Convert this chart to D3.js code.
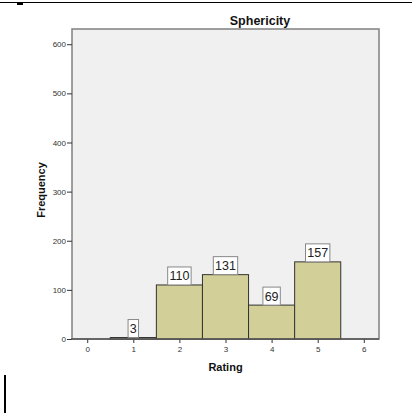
<!DOCTYPE html>
<html><head><meta charset="utf-8">
<script src="https://cdn.jsdelivr.net/npm/d3@7"></script>
<style>body{margin:0;background:#fff;}svg{display:block;}</style>
</head><body>
<script>
const ratings = [1, 2, 3, 4, 5];
const frequencies = [3, 110, 131, 69, 157];
const xTicks = [0, 1, 2, 3, 4, 5, 6];
const yTicks = [0, 100, 200, 300, 400, 500, 600];
const title = "Sphericity";
const xLabel = "Rating";
const yLabel = "Frequency";

const W = 412, H = 413;
const svg = d3.select("body").append("svg").attr("width", W).attr("height", H);

// decorative lines from the screenshot
svg.append("line").attr("x1", 0).attr("x2", W).attr("y1", 2.5).attr("y2", 2.5).attr("stroke", "#000").attr("stroke-width", 1);
svg.append("rect").attr("x", 17).attr("y", 2).attr("width", 6).attr("height", 3).attr("fill", "#000");
svg.append("rect").attr("x", 4).attr("y", 375).attr("width", 2).attr("height", 38).attr("fill", "#000");

const L = 72, R = 379, T = 29, B = 339;
const x = d3.scaleLinear().domain([-0.33, 6.33]).range([L, R]);
const y = d3.scaleLinear().domain([0, 631]).range([B, T]);

svg.append("rect").attr("x", L).attr("y", T).attr("width", R - L).attr("height", B - T)
  .attr("fill", "#f0f0f0").attr("stroke", "#808080").attr("stroke-width", 1.5);

// bars
svg.selectAll("rect.bar").data(ratings).join("rect").attr("class", "bar")
  .attr("x", d => x(d - 0.5)).attr("width", d => x(d + 0.5) - x(d - 0.5))
  .attr("y", (d, i) => y(frequencies[i])).attr("height", (d, i) => y(0) - y(frequencies[i]))
  .attr("fill", "#d3cf98").attr("stroke", "#333").attr("stroke-width", 1);

// value labels
const lab = svg.selectAll("g.lab").data(ratings).join("g").attr("class", "lab");
lab.each(function(d, i) {
  const g = d3.select(this);
  const t = g.append("text").text(frequencies[i])
    .attr("x", x(d)).attr("y", y(frequencies[i]) - 4.5)
    .attr("text-anchor", "middle").attr("font-family", "Liberation Sans, Arial, sans-serif")
    .attr("font-size", 12.5).attr("fill", "#222");
  const bw = t.node().getComputedTextLength() + 3.5;
  g.insert("rect", "text").attr("x", x(d) - bw / 2).attr("y", y(frequencies[i]) - 18)
    .attr("width", bw).attr("height", 18).attr("fill", "#fff").attr("stroke", "#888").attr("stroke-width", 1);
});

// axes
const xAxis = svg.append("g").attr("transform", `translate(0,${B})`)
  .call(d3.axisBottom(x).tickValues(xTicks).tickSize(4).tickPadding(3).tickFormat(d3.format("d")));
const yAxis = svg.append("g").attr("transform", `translate(${L},0)`)
  .call(d3.axisLeft(y).tickValues(yTicks).tickSize(5).tickPadding(1).tickFormat(d3.format("d")));
[xAxis, yAxis].forEach(a => {
  a.select(".domain").remove();
  a.selectAll("line").attr("stroke", "#333");
  a.selectAll("text").attr("font-family", "Liberation Sans, Arial, sans-serif").attr("font-size", 8).attr("fill", "#333");
});
svg.append("line").attr("x1", L - 1).attr("x2", R).attr("y1", B).attr("y2", B).attr("stroke", "#555").attr("stroke-width", 1.5);

svg.append("text").text(title).attr("x", 260).attr("y", 24.5).attr("text-anchor", "middle")
  .attr("font-family", "Liberation Sans, Arial, sans-serif").attr("font-weight", "bold").attr("font-size", 12.5).attr("fill", "#111");
svg.append("text").text(xLabel).attr("x", x(3)).attr("y", 371).attr("text-anchor", "middle")
  .attr("font-family", "Liberation Sans, Arial, sans-serif").attr("font-weight", "bold").attr("font-size", 11).attr("fill", "#111");
svg.append("text").text(yLabel).attr("transform", "translate(45,190) rotate(-90)").attr("text-anchor", "middle")
  .attr("font-family", "Liberation Sans, Arial, sans-serif").attr("font-weight", "bold").attr("font-size", 11).attr("fill", "#111");
</script>
</body></html>
